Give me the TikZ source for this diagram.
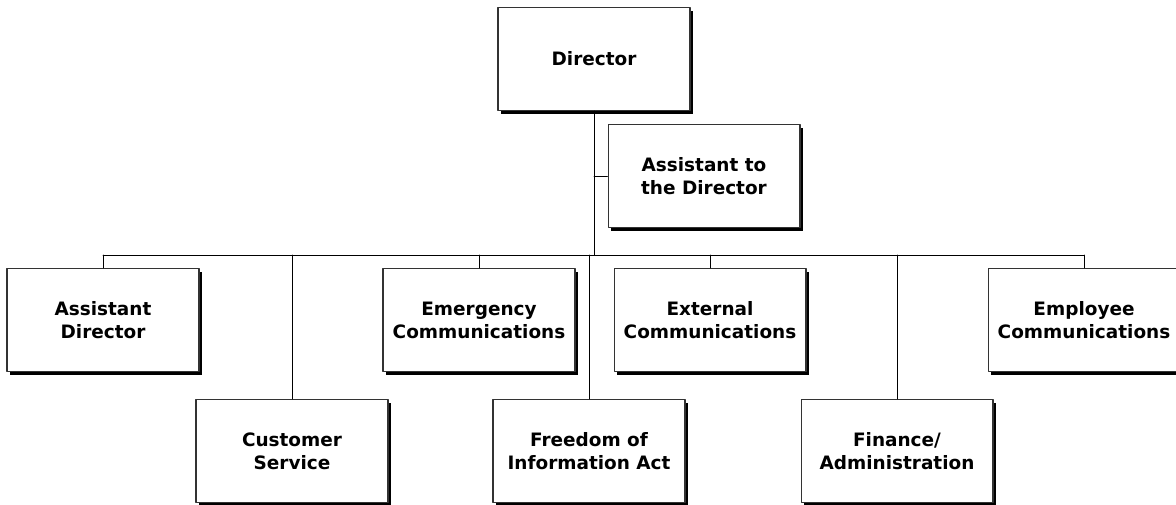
\documentclass[tikz,border=0pt]{standalone}
\usepackage{fontspec}
\setmainfont{DejaVu Sans}
\usepackage{tikz}
\usetikzlibrary{shadows}

\begin{document}
\begin{tikzpicture}[line cap=round,line join=round,x=0.02cm,y=-0.02cm,
  unit/.style={draw=black!80,line width=0.6pt,fill=white,minimum width=3.84cm,minimum height=2.06cm,
    align=center,font=\fontsize{10.5}{13.2}\selectfont\bfseries,inner sep=0pt,
    drop shadow={shadow xshift=1.8pt,shadow yshift=-1.8pt,fill=black,opacity=1}},
  link/.style={line width=0.5pt,color=black}]
\useasboundingbox (0,0) rectangle (1176,504);
\node[unit] (dir) at (594,59) {Director};
\node[unit] (atd) at (704,176) {Assistant to\\the Director};
\node[unit] (ad) at (103,320) {Assistant\\Director};
\node[unit] (emc) at (479,320) {Emergency\\Communications};
\node[unit] (exc) at (710,320) {External\\Communications};
\node[unit] (epc) at (1084,320) {Employee\\Communications};
\node[unit] (cs) at (292,451) {Customer\\Service};
\node[unit] (foia) at (589,451) {Freedom of\\Information Act};
\node[unit] (fin) at (897,451) {Finance/\\Administration};
\coordinate (busL) at (103,255);
\coordinate (busR) at (1084,255);
\draw[link] (busL) -- (busR);
\draw[link] (dir.south) -- (dir.south |- busL);
\draw[link] (atd.west) -- (atd.west -| dir.south);
\foreach \n in {ad,emc,exc,epc,cs,foia,fin}
\draw[link] (\n.north) -- (\n.north |- busL);
\end{tikzpicture}
\end{document}
